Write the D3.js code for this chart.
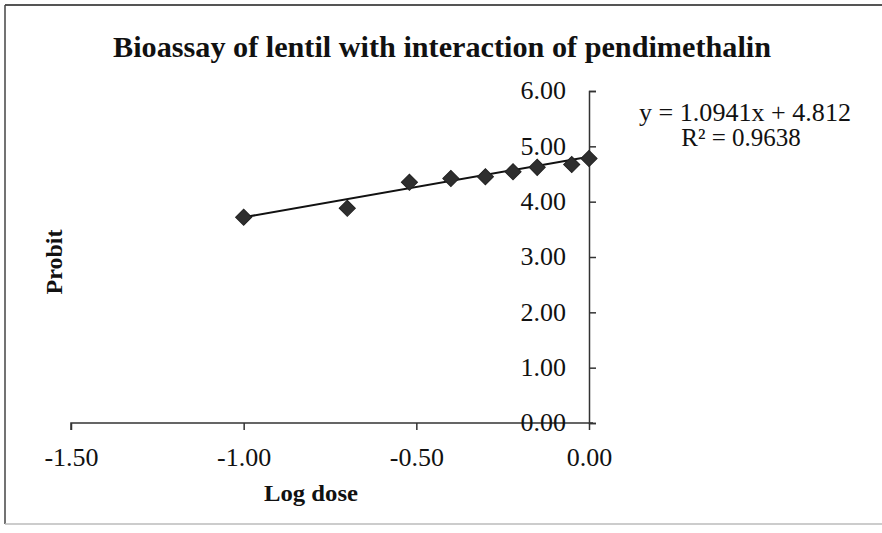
<!DOCTYPE html>
<html>
<head>
<meta charset="utf-8">
<script src="https://cdn.jsdelivr.net/npm/d3@7"></script>
<style>
  body { margin:0; background:#fff; }
  text { font-family: "Liberation Serif", "Times New Roman", serif; fill:#111; }
</style>
</head>
<body>
<div id="chart"></div>
<script>
// data
const logDose = [-1.00, -0.70, -0.52, -0.40, -0.30, -0.22, -0.15, -0.05, 0.00];
const probit  = [3.72, 3.88, 4.35, 4.42, 4.45, 4.54, 4.62, 4.67, 4.78];
const xTicks  = [-1.5, -1.0, -0.5, 0.0];
const yTicks  = [0, 1, 2, 3, 4, 5, 6];
const slope = 1.0941, intercept = 4.812, r2 = 0.9638;

let width = 882, height = 533,
    xValue = (d, i) => logDose[i],
    fmt = d => d.toFixed(2);

let svg = d3.select("#chart").append("svg").attr("width", width).attr("height", height)

// frame
svg.append("line").attr("x1",5).attr("x2",width).attr("y1",5).attr("y2",5).attr("stroke","#555").attr("stroke-width",2)
svg.append("line").attr("x1",5).attr("x2",5).attr("y1",5).attr("y2",524).attr("stroke","#444").attr("stroke-width",1.5)
svg.append("line").attr("x1",5).attr("x2",width).attr("y1",524).attr("y2",524).attr("stroke","#bbb").attr("stroke-width",1.5)

let xScale = d3.scaleLinear().domain([-1.5, 0]).range([71, 589]);
let yScale = d3.scaleLinear().domain([0, 6]).range([423, 91]);

// x axis (ticks down)
let xAxis = d3.axisBottom(xScale).tickValues(xTicks).tickSize(7).tickPadding(18).tickFormat(fmt)
let xGroup = svg.append("g").attr("transform", `translate(0,${yScale(0)})`).call(xAxis)
xGroup.select(".domain").attr("stroke","#333").attr("stroke-width",1.5).attr("d", `M71,7V0H593`)
xGroup.selectAll(".tick line").attr("stroke","#333").attr("stroke-width",1.5)
xGroup.selectAll(".tick text").attr("font-size",26).attr("fill","#111").attr("font-family","Liberation Serif")

// y axis (ticks to the right, labels left)
let yAxis = d3.axisRight(yScale).tickValues(yTicks).tickSize(7).tickFormat("")
let yGroup = svg.append("g").attr("transform", `translate(${xScale(0)},0)`).call(yAxis)
yGroup.select(".domain").attr("stroke","#333").attr("stroke-width",1.5)
yGroup.selectAll(".tick line").attr("stroke","#333").attr("stroke-width",1.5)
svg.append("g").selectAll("text").data(yTicks).enter().append("text")
   .attr("x", 566).attr("y", d => yScale(d)).attr("dy","0.32em")
   .attr("text-anchor","end").attr("font-size",26)
   .text(fmt)

// trend line
let xs = d3.extent(logDose)
let lineGen = d3.line().x(d => xScale(d)).y(d => yScale(slope * d + intercept))
svg.append("path").attr("d", lineGen(xs)).attr("fill","none").attr("stroke","#111").attr("stroke-width",2)

// markers
let diamond = d3.symbol().type(d3.symbolSquare).size(130)
svg.append("g").selectAll("path").data(probit).enter().append("path")
   .attr("d", diamond)
   .attr("transform", (d, i) => `translate(${xScale(xValue(d, i))},${yScale(d)}) rotate(45)`)
   .attr("fill","#2e2e2e").attr("stroke","#222")

// title and labels
svg.append("text").attr("x", 442).attr("y", 57).attr("text-anchor","middle")
   .attr("font-size",30).attr("font-weight","bold")
   .attr("textLength",658).attr("lengthAdjust","spacingAndGlyphs")
   .text("Bioassay of lentil with interaction of pendimethalin")
svg.append("text").attr("x", 311).attr("y", 501).attr("text-anchor","middle")
   .attr("font-size",24).attr("font-weight","bold")
   .attr("textLength",94).attr("lengthAdjust","spacingAndGlyphs")
   .text("Log dose")
svg.append("text").attr("transform","translate(62,262) rotate(-90)").attr("text-anchor","middle")
   .attr("font-size",24).attr("font-weight","bold")
   .text("Probit")

// equation
svg.append("text").attr("x", 745).attr("y", 121).attr("text-anchor","middle").attr("font-size",25)
   .attr("textLength",212).attr("lengthAdjust","spacingAndGlyphs")
   .text(`y = ${slope}x + ${intercept}`)
svg.append("text").attr("x", 741).attr("y", 146).attr("text-anchor","middle").attr("font-size",25)
   .text(`R² = ${r2}`)
</script>
</body>
</html>
